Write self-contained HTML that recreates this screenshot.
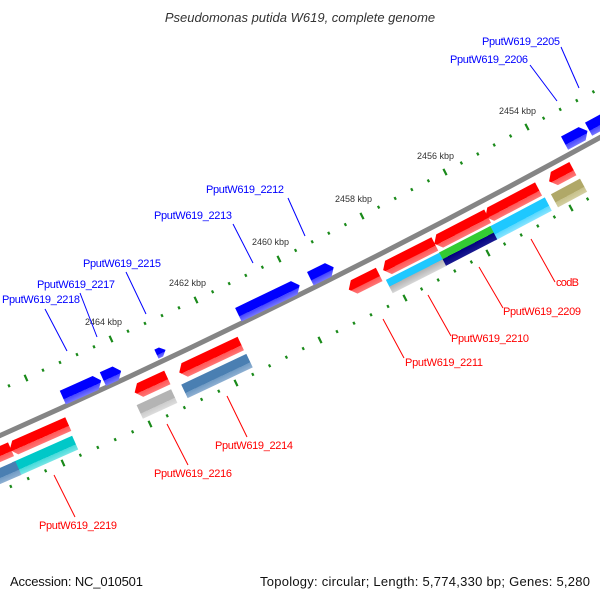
<!DOCTYPE html>
<html><head><meta charset="utf-8"><style>
html,body{margin:0;padding:0;background:#fff;}
svg{display:block;}
.b{fill:#0000ff;font-family:"Liberation Sans",sans-serif;font-size:11px;}
.r{fill:#ff0000;font-family:"Liberation Sans",sans-serif;font-size:11px;}
.k{fill:#333;font-family:"Liberation Sans",sans-serif;font-size:9px;}
</style></head><body>
<svg id="s" width="600" height="600" viewBox="0 0 600 600" xmlns="http://www.w3.org/2000/svg">
<defs>
<linearGradient id="gred" x1="0" y1="0" x2="0" y2="1"><stop offset="0" stop-color="#ff0000"/><stop offset="0.62" stop-color="#ff0000"/><stop offset="0.62" stop-color="#ff5555"/><stop offset="1" stop-color="#ff7777"/></linearGradient>
<linearGradient id="gblue" x1="0" y1="0" x2="0" y2="1"><stop offset="0" stop-color="#0000ff"/><stop offset="0.62" stop-color="#0000ff"/><stop offset="0.62" stop-color="#4444ff"/><stop offset="1" stop-color="#7777ff"/></linearGradient>
<linearGradient id="gcyan" x1="0" y1="0" x2="0" y2="1"><stop offset="0" stop-color="#1ec8ff"/><stop offset="0.62" stop-color="#1ec8ff"/><stop offset="0.62" stop-color="#55d8ff"/><stop offset="1" stop-color="#88e4ff"/></linearGradient>
<linearGradient id="gteal" x1="0" y1="0" x2="0" y2="1"><stop offset="0" stop-color="#00c8c8"/><stop offset="0.62" stop-color="#00c8c8"/><stop offset="0.62" stop-color="#44dada"/><stop offset="1" stop-color="#77e6e6"/></linearGradient>
<linearGradient id="gsteel" x1="0" y1="0" x2="0" y2="1"><stop offset="0" stop-color="#4a7fb2"/><stop offset="0.62" stop-color="#4a7fb2"/><stop offset="0.62" stop-color="#6f9ac4"/><stop offset="1" stop-color="#8fb0d2"/></linearGradient>
<linearGradient id="ggray" x1="0" y1="0" x2="0" y2="1"><stop offset="0" stop-color="#b4b4b4"/><stop offset="0.62" stop-color="#b4b4b4"/><stop offset="0.62" stop-color="#cccccc"/><stop offset="1" stop-color="#dddddd"/></linearGradient>
<linearGradient id="golive" x1="0" y1="0" x2="0" y2="1"><stop offset="0" stop-color="#b0a868"/><stop offset="0.62" stop-color="#b0a868"/><stop offset="0.62" stop-color="#c6c08a"/><stop offset="1" stop-color="#d4cfa0"/></linearGradient>
<linearGradient id="gcg" x1="0" y1="0" x2="0" y2="1"><stop offset="0" stop-color="#1ec8ff"/><stop offset="0.5" stop-color="#1ec8ff"/><stop offset="0.5" stop-color="#b0b0b0"/><stop offset="1" stop-color="#d8d8d8"/></linearGradient>
<linearGradient id="ggn" x1="0" y1="0" x2="0" y2="1"><stop offset="0" stop-color="#33cc33"/><stop offset="0.5" stop-color="#33cc33"/><stop offset="0.5" stop-color="#000080"/><stop offset="1" stop-color="#1a1a90"/></linearGradient>
</defs>
<text x="300" y="22" text-anchor="middle" font-family="Liberation Sans, sans-serif" font-size="13" font-style="italic" fill="#333">Pseudomonas putida W619, complete genome</text>
<path d="M-10,440 Q304,301 610,132" fill="none" stroke="#858585" stroke-width="5"/>
<g id="ticks"></g>
<g id="feat"></g>
<text class="k" x="499" y="114">2454 kbp</text>
<text class="k" x="417" y="159">2456 kbp</text>
<text class="k" x="335" y="202">2458 kbp</text>
<text class="k" x="252" y="245">2460 kbp</text>
<text class="k" x="169" y="286">2462 kbp</text>
<text class="k" x="85" y="325">2464 kbp</text>
<g stroke="#0000ff" stroke-width="1">
<line x1="561" y1="47" x2="579" y2="88"/>
<line x1="530" y1="65" x2="557" y2="101"/>
<line x1="288" y1="198" x2="305" y2="236"/>
<line x1="233" y1="224" x2="253" y2="263"/>
<line x1="126" y1="272" x2="146" y2="314"/>
<line x1="80" y1="293" x2="97" y2="337"/>
<line x1="45" y1="309" x2="67" y2="351"/>
</g>
<text class="b" x="482" y="45" textLength="78">PputW619_2205</text>
<text class="b" x="450" y="63" textLength="78">PputW619_2206</text>
<text class="b" x="206" y="193" textLength="78">PputW619_2212</text>
<text class="b" x="154" y="219" textLength="78">PputW619_2213</text>
<text class="b" x="83" y="267" textLength="78">PputW619_2215</text>
<text class="b" x="37" y="288" textLength="78">PputW619_2217</text>
<text class="b" x="2" y="303" textLength="78">PputW619_2218</text>
<g stroke="#ff0000" stroke-width="1">
<line x1="531" y1="239" x2="555" y2="282"/>
<line x1="479" y1="267" x2="503" y2="308"/>
<line x1="428" y1="295" x2="451" y2="336"/>
<line x1="383" y1="319" x2="404" y2="358"/>
<line x1="227" y1="396" x2="247" y2="437"/>
<line x1="167" y1="424" x2="188" y2="465"/>
<line x1="54" y1="475" x2="75" y2="517"/>
</g>
<text class="r" x="556" y="286" textLength="23">codB</text>
<text class="r" x="503" y="315" textLength="78">PputW619_2209</text>
<text class="r" x="451" y="342" textLength="78">PputW619_2210</text>
<text class="r" x="405" y="366" textLength="78">PputW619_2211</text>
<text class="r" x="215" y="449" textLength="78">PputW619_2214</text>
<text class="r" x="154" y="477" textLength="78">PputW619_2216</text>
<text class="r" x="39" y="529" textLength="78">PputW619_2219</text>
<text x="10" y="586" font-family="Liberation Sans, sans-serif" font-size="13" fill="#111" textLength="133">Accession: NC_010501</text>
<text x="260" y="586" font-family="Liberation Sans, sans-serif" font-size="13" fill="#111" textLength="330">Topology: circular; Length: 5,774,330 bp; Genes: 5,280</text>
</svg>
<script>
var NS="http://www.w3.org/2000/svg";
function el(p,n,a){var e=document.createElementNS(NS,n);for(var k in a)e.setAttribute(k,a[k]);p.appendChild(e);return e;}
var T=document.getElementById("ticks"),F=document.getElementById("feat");
function ang(x){return -(23.5+5*x/600);}
function row(maj){
  var m=maj.slice();
  var n=m.length;
  m.unshift([2*m[0][0]-m[1][0],2*m[0][1]-m[1][1]]);
  m.push([2*m[n][0]-m[n-1][0],2*m[n][1]-m[n-1][1]]);
  for(var i=0;i<m.length-1;i++){
    for(var j=0;j<5;j++){
      var x=m[i][0]+(m[i+1][0]-m[i][0])*j/5,y=m[i][1]+(m[i+1][1]-m[i][1])*j/5;
      var a=ang(x)*Math.PI/180, nx=-Math.sin(a), ny=Math.cos(a);
      var L=(j==0)?3.5:1.5;
      el(T,"line",{x1:x-nx*L,y1:y-ny*L,x2:x+nx*L,y2:y+ny*L,stroke:"#1a8a1a","stroke-width":2.2});
    }
  }
}
row([[610,83],[527,127],[445,172],[362,216],[279,259],[196,300],[111,339],[26,378]]);
row([[654,163],[571,208],[488,253],[405,298],[320,340],[236,383],[150,424],[63,463]]);
function feat(cx,cy,L,t,dir,g,ah){
  var gg=el(F,"g",{transform:"translate("+cx+","+cy+") rotate("+ang(cx)+")"});
  var h=ah===undefined?6:ah, a=L/2, b=t/2, pts;
  if(dir>0) pts=[[-a,-b],[a-h,-b],[a,0],[a-h,b],[-a,b]];
  else if(dir<0) pts=[[a,-b],[-a+h,-b],[-a,0],[-a+h,b],[a,b]];
  else pts=[[-a,-b],[a,-b],[a,b],[-a,b]];
  el(gg,"polygon",{points:pts.map(function(p){return p.join(",")}).join(" "),fill:"url(#"+g+")"});
}
var TH=15;
feat(576,137,26,TH,1,"gblue");
feat(600,123,26,TH,1,"gblue");
feat(269,300,68,TH,1,"gblue");
feat(322,273,26,TH,1,"gblue");
feat(161,352,10,10,1,"gblue",5);
feat(82,389,42,TH,1,"gblue");
feat(112,375,20,TH,1,"gblue");
feat(561,175,27,TH,-1,"gred");
feat(512,203,60,TH,-1,"gred");
feat(461,230,60,TH,-1,"gred");
feat(409,257,58,TH,-1,"gred");
feat(364,282,34,TH,-1,"gred");
feat(210,358,68,TH,-1,"gred");
feat(151,385,36,TH,-1,"gred");
feat(39,437,64,TH,-1,"gred");
feat(0,454,24,TH,-1,"gred");
feat(569,193,33,TH,0,"golive");
feat(520,219,64,TH,0,"gcyan");
feat(468,246,58,TH,0,"ggn");
feat(416,273,60,TH,0,"gcg");
feat(157,404,38,TH,0,"ggray");
feat(217,376,72,TH,0,"gsteel");
feat(45,456,66,TH,0,"gteal");
feat(0,476,40,TH,0,"gsteel");
</script>
</body></html>
